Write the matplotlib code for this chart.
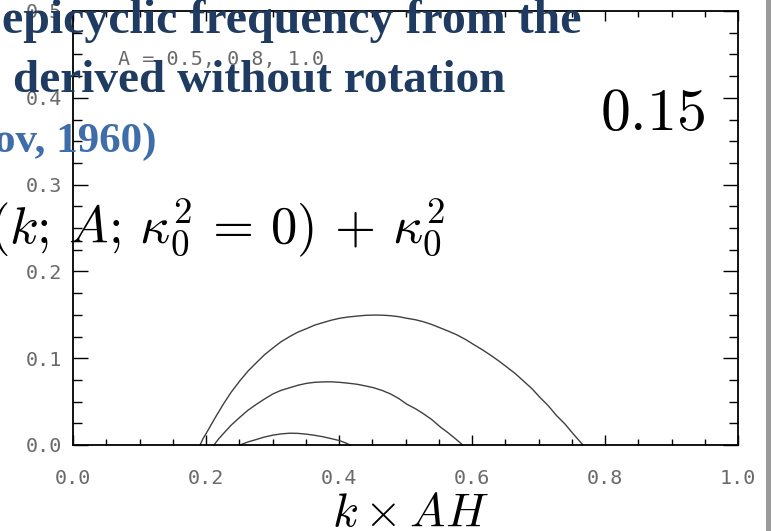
import matplotlib
matplotlib.use("Agg")
import matplotlib.pyplot as plt
from matplotlib.ticker import MultipleLocator
from matplotlib.patches import Rectangle

plt.rcParams["mathtext.fontset"] = "cm"

# kappa^2 as a function of k*AH, one curve per A
k_a10 = [0.191, 0.196, 0.200, 0.206, 0.215, 0.226, 0.238, 0.251, 0.263, 0.276, 0.288,
         0.301, 0.313, 0.326, 0.338, 0.351, 0.363, 0.376, 0.388, 0.401, 0.414, 0.427,
         0.440, 0.452, 0.465, 0.477, 0.490, 0.502, 0.515, 0.527, 0.540, 0.552, 0.565,
         0.577, 0.590, 0.602, 0.615, 0.627, 0.640, 0.652, 0.665, 0.677, 0.690, 0.702,
         0.715, 0.727, 0.740, 0.752, 0.760, 0.767]
kappa2_a10 = [0.0, 0.008, 0.013, 0.021, 0.033, 0.047, 0.061, 0.074, 0.085, 0.095, 0.104,
              0.112, 0.119, 0.125, 0.130, 0.134, 0.138, 0.141, 0.1437, 0.146, 0.1475, 0.1485,
              0.1494, 0.1497, 0.1496, 0.149, 0.1478, 0.146, 0.1443, 0.142, 0.1387, 0.135, 0.131,
              0.127, 0.1217, 0.116, 0.110, 0.104, 0.097, 0.090, 0.0823, 0.074, 0.065, 0.055,
              0.045, 0.034, 0.024, 0.013, 0.006, 0.0]

k_a08 = [0.212, 0.219, 0.226, 0.238, 0.251, 0.263, 0.276, 0.288, 0.301, 0.313, 0.326,
         0.338, 0.351, 0.363, 0.376, 0.388, 0.401, 0.414, 0.427, 0.440, 0.452, 0.465,
         0.477, 0.490, 0.502, 0.515, 0.527, 0.540, 0.552, 0.565, 0.577, 0.586]
kappa2_a08 = [0.0, 0.007, 0.013, 0.023, 0.032, 0.040, 0.047, 0.053, 0.059, 0.063, 0.066,
              0.0688, 0.071, 0.0722, 0.0727, 0.0728, 0.0722, 0.0712, 0.070, 0.068, 0.066, 0.0628,
              0.059, 0.0535, 0.047, 0.0418, 0.036, 0.029, 0.021, 0.0135, 0.006, 0.0]

k_a05 = [0.251, 0.263, 0.276, 0.288, 0.301, 0.313, 0.326, 0.338, 0.351, 0.363, 0.376,
         0.388, 0.401, 0.409, 0.417]
kappa2_a05 = [0.0, 0.0035, 0.0064, 0.0092, 0.0114, 0.0128, 0.0136, 0.0134, 0.0125, 0.0112,
              0.0095, 0.0074, 0.005, 0.0027, 0.0]

x_ticks = [0.0, 0.2, 0.4, 0.6, 0.8, 1.0]
y_ticks = [0.0, 0.1, 0.2, 0.3, 0.4, 0.5]

navy = "#1f3b61"
light_blue = "#3e6daa"
label_gray = "#6a6a6a"
mono = "DejaVu Sans Mono"

fig = plt.figure(figsize=(7.71, 5.31), dpi=100)
ax = fig.add_axes([73 / 771, 86 / 531, 665 / 771, 434 / 531])

for k, kap in [(k_a10, kappa2_a10), (k_a08, kappa2_a08), (k_a05, kappa2_a05)]:
    ax.plot(k, kap, color="#404040", lw=1.0, clip_on=False)

ax.set_xlim(0, 1)
ax.set_ylim(0, 0.5)
ax.set_xticks(x_ticks)
ax.set_yticks(y_ticks)
ax.set_xticklabels([f"{v:.1f}" for v in x_ticks])
ax.set_yticklabels([f"{v:.1f}" for v in y_ticks])
ax.xaxis.set_minor_locator(MultipleLocator(0.05))
ax.yaxis.set_minor_locator(MultipleLocator(0.025))

ax.tick_params(axis="both", which="both", direction="in", top=True, right=True,
               width=1.0, color="black")
ax.tick_params(axis="x", which="major", length=7.2, pad=17, labelsize=14.5,
               labelcolor=label_gray)
ax.tick_params(axis="x", which="minor", length=4.3)
ax.tick_params(axis="y", which="major", length=10.8, pad=8, labelsize=14.5,
               labelcolor=label_gray)
ax.tick_params(axis="y", which="minor", length=6.5)
for lab in ax.get_xticklabels() + ax.get_yticklabels():
    lab.set_family(mono)
for sp in ax.spines.values():
    sp.set_linewidth(1.3)

ax.text((118 - 73) / 665, 1 - 49 / 434, "A = 0.5, 0.8, 1.0", transform=ax.transAxes,
        family=mono, fontsize=14.5, color=label_gray, va="center", ha="left")

# overlay text
fig.text(2 / 771, 1 - 33 / 531, "epicyclic frequency from the", family="Liberation Serif",
         weight="bold", fontsize=34.5, color=navy, ha="left", va="baseline")
fig.text(13 / 771, 1 - 92 / 531, "derived without rotation", family="Liberation Serif",
         weight="bold", fontsize=34, color=navy, ha="left", va="baseline")
fig.text(157 / 771, 1 - 152 / 531, "ov, 1960)", family="Liberation Serif",
         weight="bold", fontsize=31, color=light_blue, ha="right", va="baseline")

fig.text(705 / 771, 1 - 130 / 531, r"$0.15$", fontsize=43, color="black",
         ha="right", va="baseline")
fig.text(445 / 771, 1 - 242 / 531, r"$(k;\,A;\,\kappa_0^2\,=\,0)\,+\,\kappa_0^2$",
         fontsize=38, color="black", ha="right", va="baseline")
fig.text(410 / 771, 1 - 526 / 531, r"$k\times AH$", fontsize=34, color="black",
         ha="center", va="baseline")

fig.patches.append(Rectangle((766 / 771, 0), 5 / 771, 1, transform=fig.transFigure,
                             facecolor="#9a9a9a", edgecolor="none"))

fig.savefig("out.png", dpi=100)
